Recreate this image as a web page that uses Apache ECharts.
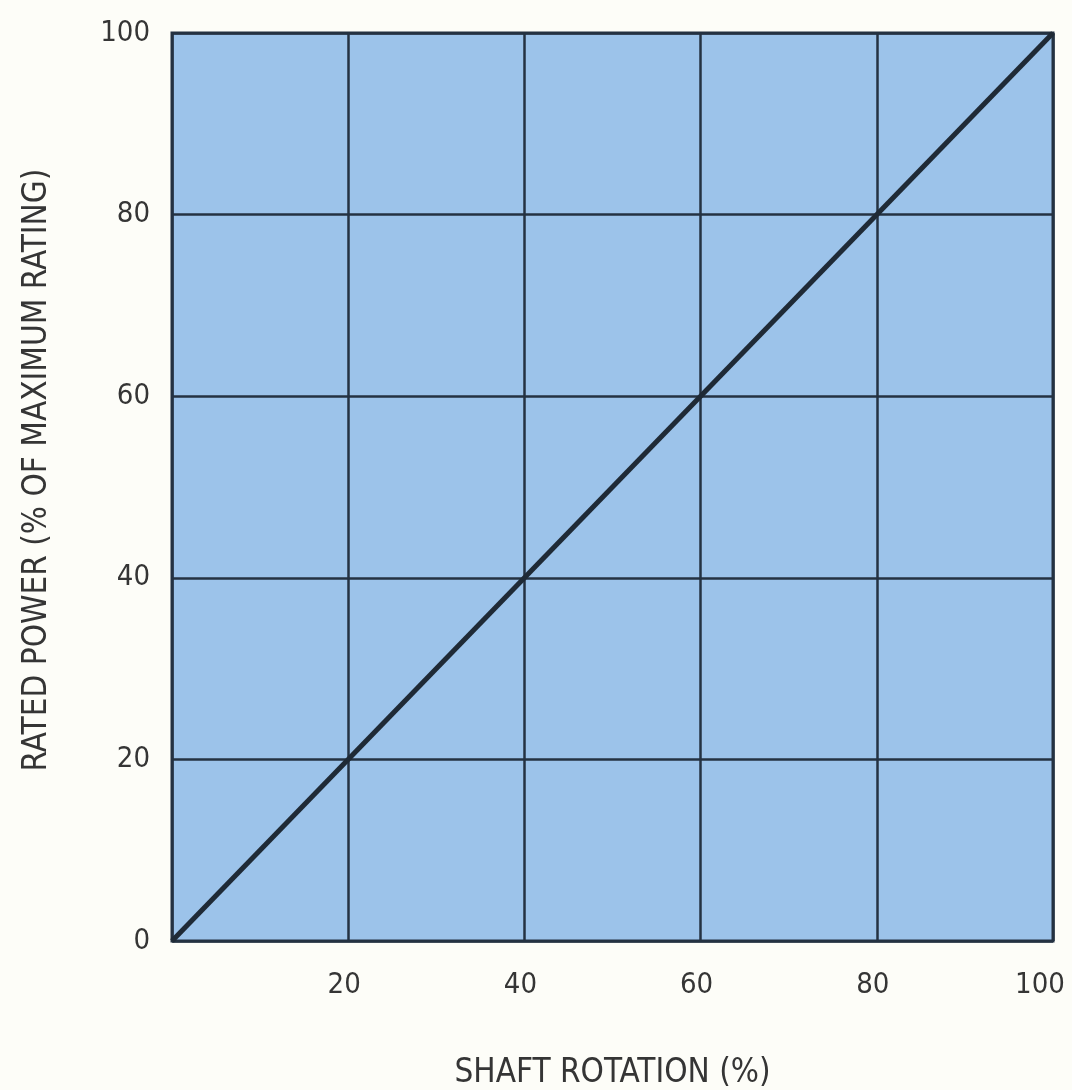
<!DOCTYPE html>
<html>
<head>
<meta charset="utf-8">
<script src="https://cdn.jsdelivr.net/npm/echarts@6/dist/echarts.min.js"></script>
<style>
  html, body { margin: 0; padding: 0; background: #fdfdf8; }
  #chart { width: 1072px; height: 1090px; }
</style>
</head>
<body>
<div id="chart"></div>
<script>
const shaftRotation = [0, 100];
const ratedPower = [0, 100];
const xTicks = [20, 40, 60, 80, 100];
const yTicks = [0, 20, 40, 60, 80, 100];

const font = '"DejaVu Sans Condensed", "Liberation Sans Narrow", sans-serif';
const ink = "#353535";
const gridInk = "#243242";

const chart = echarts.init(document.getElementById("chart"));
chart.setOption({
  backgroundColor: "#fdfdf8",
  animation: false,
  grid: {
    left: 172,
    right: 19,
    top: 33,
    bottom: 149,
    outerBoundsMode: "none",
    show: true,
    backgroundColor: "#9cc3ea",
    borderColor: gridInk,
    borderWidth: 3,
  },
  xAxis: {
    type: "value",
    min: 0,
    max: 100,
    interval: 20,
    name: "SHAFT ROTATION (%)",
    nameLocation: "middle",
    nameGap: 116,
    nameTextStyle: { fontFamily: font, fontSize: 33, color: ink },
    axisLine: { show: false },
    axisTick: { show: false },
    axisLabel: {
      margin: 30,
      fontFamily: font,
      fontSize: 29,
      color: ink,
      // the last label sits a little left of its gridline, as in the original
      formatter: (v) => {
        if (!xTicks.includes(v)) return "";
        return v === 100 ? "{last|" + v + "}" : "{n|" + v + "}";
      },
      rich: {
        n: { fontFamily: font, fontSize: 29, color: ink, padding: [0, 8, 0, 0] },
        last: { fontFamily: font, fontSize: 29, color: ink, padding: [0, 26, 0, 0] },
      },
    },
    splitLine: { show: true, lineStyle: { color: gridInk, width: 2.5 } },
  },
  yAxis: {
    type: "value",
    min: 0,
    max: 100,
    interval: 20,
    name: "RATED POWER (% OF MAXIMUM RATING)",
    nameLocation: "middle",
    nameGap: 118,
    nameTextStyle: {
      fontFamily: font,
      fontSize: 33,
      color: ink,
      padding: [0, 0, 0, 34],
    },
    axisLine: { show: false },
    axisTick: { show: false },
    axisLabel: {
      margin: 22,
      fontFamily: font,
      fontSize: 29,
      color: ink,
      formatter: (v) => (yTicks.includes(v) ? String(v) : ""),
    },
    splitLine: { show: true, lineStyle: { color: gridInk, width: 2.5 } },
  },
  series: [
    {
      type: "line",
      data: shaftRotation.map((x, i) => [x, ratedPower[i]]),
      symbol: "none",
      lineStyle: { color: "#1f2a36", width: 5 },
    },
  ],
});
</script>
</body>
</html>
